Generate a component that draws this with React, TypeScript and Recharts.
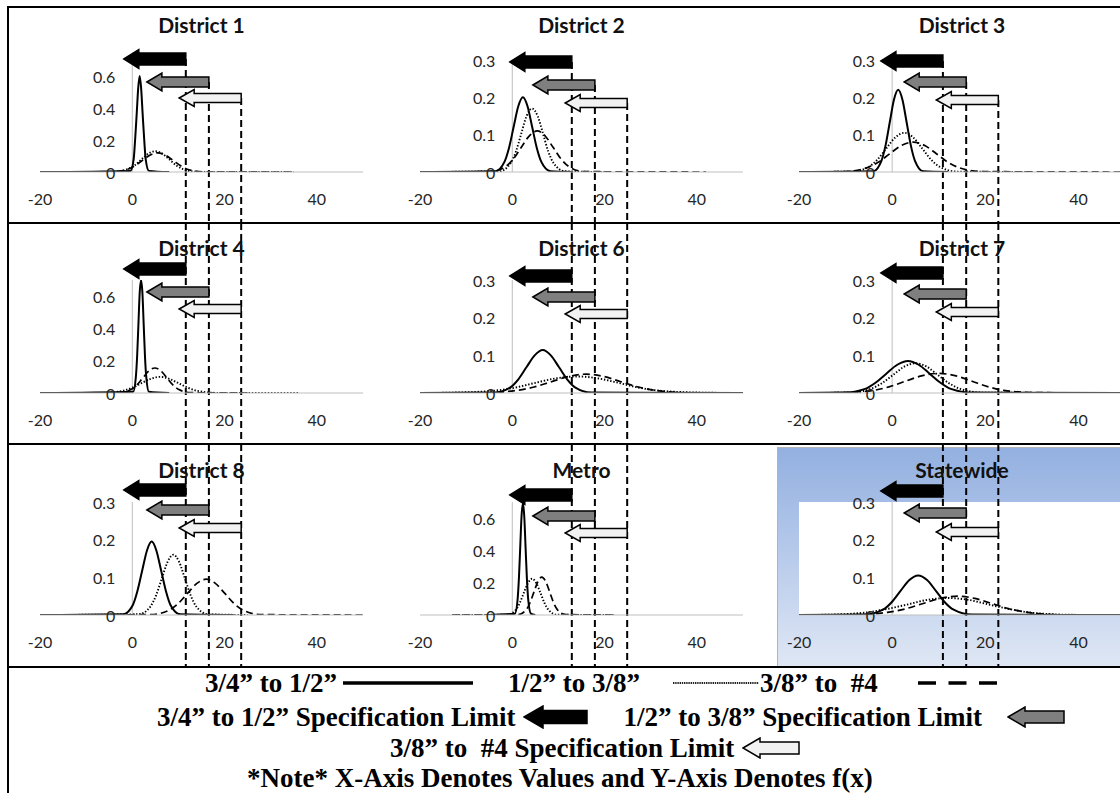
import React from "react";
import {
  LineChart,
  Line,
  XAxis,
  YAxis,
  ReferenceLine,
  ReferenceDot,
  CartesianGrid,
} from "recharts";

// [x, f(x)] points
const d1Solid = [[-20, 0], [-0.4, 0.007], [0.3, 0.08], [0.6, 0.195], [0.95, 0.36], [1.3, 0.53], [1.6, 0.6], [1.9, 0.53], [2.25, 0.36], [2.6, 0.195], [2.9, 0.08], [3.6, 0.007], [8, 0]];
const d1Dotted = [[-20, 0], [-4, 0.001], [-1, 0.018], [0.5, 0.042], [2, 0.079], [3.5, 0.115], [5, 0.13], [6.5, 0.115], [8, 0.079], [9.5, 0.042], [11, 0.018], [14, 0.001], [35, 0]];
const d1Dashed = [[-20, 0], [-4.4, 0.001], [-1.1, 0.016], [0.6, 0.039], [2.2, 0.073], [3.9, 0.106], [5.5, 0.12], [7.1, 0.106], [8.8, 0.073], [10.5, 0.039], [12.1, 0.016], [15.4, 0.001], [35, 0]];

const d2Solid = [[-20, 0], [-3.7, 0.002], [-1.7, 0.027], [-0.7, 0.065], [0.3, 0.121], [1.3, 0.176], [2.3, 0.2], [3.3, 0.176], [4.3, 0.121], [5.3, 0.065], [6.3, 0.027], [8.3, 0.002], [13, 0]];
const d2Dotted = [[-20, 0], [-2.8, 0.002], [-0.4, 0.023], [0.8, 0.055], [1.95, 0.103], [3.1, 0.15], [4.3, 0.17], [5.5, 0.15], [6.65, 0.103], [7.8, 0.055], [9, 0.023], [11.4, 0.002], [20, 0]];
const d2Dashed = [[-20, 0], [-4.8, 0.001], [-1.4, 0.015], [0.3, 0.036], [2, 0.067], [3.7, 0.097], [5.4, 0.11], [7.1, 0.097], [8.8, 0.067], [10.5, 0.036], [12.2, 0.015], [15.6, 0.001], [42, 0]];

const d3Solid = [[-20, 0], [-4.1, 0.002], [-2.3, 0.03], [-1.4, 0.072], [-0.5, 0.134], [0.4, 0.194], [1.3, 0.22], [2.2, 0.194], [3.1, 0.134], [4, 0.072], [4.9, 0.03], [6.7, 0.002], [12, 0]];
const d3Dotted = [[-20, 0], [-8.8, 0.001], [-5, 0.014], [-3.1, 0.034], [-1.2, 0.064], [0.7, 0.093], [2.6, 0.105], [4.5, 0.093], [6.4, 0.064], [8.3, 0.034], [10.2, 0.014], [14, 0.001], [30, 0]];
const d3Dashed = [[-20, 0], [-10.5, 0.001], [-5.5, 0.011], [-3, 0.026], [-0.5, 0.049], [2, 0.071], [4.5, 0.08], [7, 0.071], [9.5, 0.049], [12, 0.026], [14.5, 0.011], [19.5, 0.001], [50, 0]];

const d4Solid = [[-20, 0], [0.2, 0.008], [0.76, 0.095], [1.05, 0.228], [1.33, 0.425], [1.6, 0.617], [1.9, 0.7], [2.2, 0.617], [2.47, 0.425], [2.75, 0.228], [3.04, 0.095], [3.6, 0.008], [8, 0]];
const d4Dotted = [[-20, 0], [-6, 0.001], [-2, 0.014], [0, 0.033], [2, 0.061], [4, 0.088], [6, 0.1], [8, 0.088], [10, 0.061], [12, 0.033], [14, 0.014], [18, 0.001], [36, 0]];
const d4Dashed = [[-20, 0], [-2.9, 0.002], [-0.3, 0.021], [1, 0.05], [2.3, 0.094], [3.6, 0.137], [4.9, 0.155], [6.2, 0.137], [7.5, 0.094], [8.8, 0.05], [10.1, 0.021], [12.7, 0.002], [25, 0]];

const d6Solid = [[-20, 0], [-3.9, 0.001], [-0.4, 0.015], [1.35, 0.037], [3.1, 0.069], [4.85, 0.1], [6.6, 0.114], [8.35, 0.1], [10.1, 0.069], [11.85, 0.037], [13.6, 0.015], [17.1, 0.001], [50, 0]];
const d6Dotted = [[-20, 0], [-13, 0.001], [-4, 0.006], [0.5, 0.014], [5, 0.027], [9.5, 0.039], [14, 0.044], [18.5, 0.039], [23, 0.027], [27.5, 0.014], [32, 0.006], [41, 0.001], [50, 0]];
const d6Dashed = [[-20, 0], [-6.5, 0.0005], [1, 0.007], [4.75, 0.016], [8.5, 0.03], [12.25, 0.044], [16, 0.05], [19.75, 0.044], [23.5, 0.03], [27.25, 0.016], [31, 0.007], [38.5, 0.0005], [50, 0]];

const d7Solid = [[-20, 0], [-10.4, 0.001], [-5.8, 0.011], [-3.5, 0.028], [-1.2, 0.052], [1.1, 0.075], [3.4, 0.085], [5.7, 0.075], [8, 0.052], [10.3, 0.028], [12.6, 0.011], [17.2, 0.001], [50, 0]];
const d7Dotted = [[-20, 0], [-9.4, 0.001], [-4.6, 0.011], [-2.2, 0.026], [0.2, 0.048], [2.6, 0.07], [5, 0.079], [7.4, 0.07], [9.8, 0.048], [12.2, 0.026], [14.6, 0.011], [19.4, 0.001], [50, 0]];
const d7Dashed = [[-20, 0], [-11, 0.001], [-4, 0.007], [-0.5, 0.017], [3, 0.032], [6.5, 0.046], [10, 0.052], [13.5, 0.046], [17, 0.032], [20.5, 0.017], [24, 0.007], [31, 0.001], [50, 0]];

const d8Solid = [[-20, 0], [-2, 0.002], [0.1, 0.026], [1.1, 0.063], [2.15, 0.118], [3.2, 0.172], [4.2, 0.195], [5.2, 0.172], [6.25, 0.118], [7.3, 0.063], [8.3, 0.026], [10.4, 0.002], [22, 0]];
const d8Dotted = [[-20, 0], [1.4, 0.002], [3.9, 0.022], [5.15, 0.052], [6.4, 0.097], [7.65, 0.141], [8.9, 0.16], [10.15, 0.141], [11.4, 0.097], [12.65, 0.052], [13.9, 0.022], [16.4, 0.002], [25, 0]];
const d8Dashed = [[-20, 0], [4, 0.001], [8, 0.013], [10, 0.031], [12, 0.058], [14, 0.084], [16, 0.095], [18, 0.084], [20, 0.058], [22, 0.031], [24, 0.013], [28, 0.001], [50, 0]];

const metroSolid = [[-5, 0], [0.56, 0.008], [1.14, 0.093], [1.43, 0.224], [1.72, 0.419], [2, 0.609], [2.3, 0.69], [2.6, 0.609], [2.88, 0.419], [3.17, 0.224], [3.46, 0.093], [4.04, 0.008], [5, 0]];
const metroDotted = [[-13, 0], [-1.1, 0.002], [0.7, 0.03], [1.6, 0.073], [2.5, 0.137], [3.4, 0.198], [4.3, 0.225], [5.2, 0.198], [6.1, 0.137], [7, 0.073], [7.9, 0.03], [9.7, 0.002], [22, 0]];
const metroDashed = [[-13, 0], [1.3, 0.003], [3, 0.032], [3.85, 0.076], [4.7, 0.143], [5.55, 0.207], [6.4, 0.235], [7.25, 0.207], [8.1, 0.143], [8.95, 0.076], [9.8, 0.032], [11.5, 0.003], [22, 0]];

const stateSolid = [[-20, 0], [-5.8, 0.001], [-2, 0.014], [-0.1, 0.034], [1.8, 0.064], [3.7, 0.093], [5.6, 0.105], [7.5, 0.093], [9.4, 0.064], [11.3, 0.034], [13.2, 0.014], [17, 0.001], [50, 0]];
const stateDotted = [[-20, 0], [-15, 0.0005], [-6, 0.006], [-1.5, 0.015], [3, 0.027], [7.5, 0.04], [12, 0.045], [16.5, 0.04], [21, 0.027], [25.5, 0.015], [30, 0.006], [39, 0.0005], [50, 0]];
const stateDashed = [[-20, 0], [-8.5, 0.0005], [-1, 0.007], [2.75, 0.016], [6.5, 0.03], [10.25, 0.044], [14, 0.05], [17.75, 0.044], [21.5, 0.03], [25.25, 0.016], [29, 0.007], [36.5, 0.0005], [50, 0]];

const titles = ["District 1", "District 2", "District 3", "District 4", "District 6", "District 7", "District 8", "Metro", "Statewide"];
const yMaxes = [0.7, 0.3, 0.3, 0.7, 0.3, 0.3, 0.3, 0.7, 0.3];
const xTicks = [-20, 0, 20, 40];
const yTicksWide = [0, 0.2, 0.4, 0.6];
const yTicksNarrow = [0, 0.1, 0.2, 0.3];
// spec limits (3/4-1/2, 1/2-3/8, 3/8-#4) as drawn over each column
const specLimits = [
  [11.6, 16.6, 23.6],
  [12.9, 17.9, 24.9],
  [10.9, 15.9, 22.8],
];

const toPts = (a: number[][]) => a.map(([x, y]) => ({ x, y }));

const series = [
  [d1Solid, d1Dotted, d1Dashed],
  [d2Solid, d2Dotted, d2Dashed],
  [d3Solid, d3Dotted, d3Dashed],
  [d4Solid, d4Dotted, d4Dashed],
  [d6Solid, d6Dotted, d6Dashed],
  [d7Solid, d7Dotted, d7Dashed],
  [d8Solid, d8Dotted, d8Dashed],
  [metroSolid, metroDotted, metroDashed],
  [stateSolid, stateDotted, stateDashed],
].map((s) => s.map(toPts));

// layout
const COLS = [
  { left: 8, width: 372, ml: 32, mr: 17 },
  { left: 380, width: 380, ml: 40, mr: 17 },
  { left: 760, width: 380, ml: 39, mr: 15 },
];
const ROWS = [
  { top: 7, height: 216, mt: 53, mb: 51, titleY: 18 },
  { top: 223, height: 221, mt: 57, mb: 51, titleY: 25 },
  { top: 444, height: 223, mt: 58, mb: 52, titleY: 26 },
];
// arrow centre y (relative to panel top) per panel: black, gray, white
const arrowYs = [
  [52, 75, 91], [55, 78, 96], [54, 75, 93],
  [46, 69, 86], [53, 74, 91], [50, 71, 89],
  [46, 66, 84], [51, 72, 89], [47, 69, 88],
];
const arrowStyles = [
  { fill: "#000", body: 12, head: 19 },
  { fill: "#7f7f7f", body: 10, head: 18 },
  { fill: "#f2f2f2", body: 9, head: 17 },
];

const tickFont = { fontSize: 16, fill: "#262626", fontFamily: "Lato, sans-serif" };

function specShape(kind: number, ay: number, yStart: number, yEnd: number) {
  return (p: any) => {
    const x = p.x1;
    const st = arrowStyles[kind];
    const L = 62;
    const hl = 15;
    const bh = st.body / 2;
    const hh = st.head / 2;
    const pts = [
      [x - L, ay],
      [x - L + hl, ay - hh],
      [x - L + hl, ay - bh],
      [x, ay - bh],
      [x, ay + bh],
      [x - L + hl, ay + bh],
      [x - L + hl, ay + hh],
    ]
      .map((q) => q.join(","))
      .join(" ");
    return (
      <g>
        <line x1={x} x2={x} y1={yStart} y2={yEnd} stroke="#000" strokeWidth={2} strokeDasharray="7 4" />
        <polygon points={pts} fill={st.fill} stroke="#000" strokeWidth={1.5} />
      </g>
    );
  };
}

function Panel({ idx }: { idx: number }) {
  const col = COLS[idx % 3];
  const row = ROWS[Math.floor(idx / 3)];
  const rowIdx = Math.floor(idx / 3);
  const yMax = yMaxes[idx];
  const yTicks = yMax > 0.5 ? yTicksWide : yTicksNarrow;
  const [solid, dotted, dashed] = series[idx];
  const plotW = col.width - col.ml - col.mr;
  const highlight = idx === 8;
  return (
    <div style={{ position: "absolute", left: col.left, top: row.top, width: col.width, height: row.height }}>
      <LineChart
        width={col.width}
        height={row.height}
        margin={{ top: row.mt, right: col.mr, bottom: row.mb - 30, left: col.ml }}
      >
        {highlight && <CartesianGrid horizontal={false} vertical={false} fill="#ffffff" stroke="none" />}
        <XAxis
          type="number"
          dataKey="x"
          domain={[-20, 50]}
          ticks={xTicks}
          allowDataOverflow
          height={30}
          tickLine={false}
          tickSize={6}
          tickMargin={16}
          axisLine={{ stroke: "#bfbfbf" }}
          tick={tickFont}
        />
        <YAxis type="number" dataKey="y" domain={[0, yMax]} hide allowDataOverflow />
        <ReferenceLine x={0} stroke="#bfbfbf" strokeWidth={1} />
        {yTicks.map((t) => (
          <ReferenceDot
            key={t}
            x={0}
            y={t}
            r={0}
            shape={(p: any) => (
              <text
                x={p.cx - 17}
                y={p.cy}
                textAnchor="end"
                dominantBaseline="central"
                fontSize={16}
                fill="#262626"
                fontFamily="Lato, sans-serif"
              >
                {String(t)}
              </text>
            )}
          />
        ))}
        <Line data={dashed} dataKey="y" type="monotone" stroke="#000" strokeWidth={1.7} strokeDasharray="7 4" dot={false} isAnimationActive={false} />
        <Line data={dotted} dataKey="y" type="monotone" stroke="#000" strokeWidth={1.9} strokeDasharray="1.4 1.8" dot={false} isAnimationActive={false} />
        <Line data={solid} dataKey="y" type="monotone" stroke="#000" strokeWidth={2} dot={false} isAnimationActive={false} />
        {specLimits[idx % 3].map((v, k) => (
          <ReferenceLine
            key={k}
            x={v}
            shape={specShape(k, arrowYs[idx][k], rowIdx === 0 ? arrowYs[idx][k] : 0, row.height)}
          />
        ))}
      </LineChart>
      <div
        style={{
          position: "absolute",
          left: col.ml,
          width: plotW,
          top: row.titleY - 12,
          height: 24,
          lineHeight: "24px",
          textAlign: "center",
          fontFamily: "Lato, sans-serif",
          fontWeight: 700,
          fontSize: 21,
          color: "#111",
          pointerEvents: "none",
        }}
      >
        {titles[idx]}
      </div>
    </div>
  );
}

function Arrow({ w, h, body, headLen, fill }: { w: number; h: number; body: number; headLen: number; fill: string }) {
  const c = h / 2;
  const pts = [
    [1, c],
    [headLen, 1],
    [headLen, c - body / 2],
    [w - 1, c - body / 2],
    [w - 1, c + body / 2],
    [headLen, c + body / 2],
    [headLen, h - 1],
  ]
    .map((q) => q.join(","))
    .join(" ");
  return (
    <svg width={w} height={h} style={{ display: "block" }}>
      <polygon points={pts} fill={fill} stroke="#000" strokeWidth={1.5} />
    </svg>
  );
}

const legendFont: React.CSSProperties = {
  fontFamily: "'Liberation Serif', 'Times New Roman', serif",
  fontWeight: 700,
  fontSize: 27,
  lineHeight: "32px",
  whiteSpace: "pre",
  color: "#000",
};

function Legend() {
  const rowStyle = (left: number, cy: number): React.CSSProperties => ({
    position: "absolute",
    left,
    top: cy - 16,
    height: 32,
    display: "flex",
    alignItems: "center",
    ...legendFont,
  });
  return (
    <>
      <div style={rowStyle(205, 683)}>
        <span>3/4” to 1/2”</span>
        <svg width={136} height={8} style={{ display: "block" }}>
          <line x1={6} x2={136} y1={4} y2={4} stroke="#000" strokeWidth={3.5} />
        </svg>
        <span style={{ marginLeft: 35 }}>1/2” to 3/8”</span>
        <svg width={120} height={8} style={{ display: "block" }}>
          <line x1={33} x2={119} y1={4} y2={4} stroke="#222" strokeWidth={2.2} strokeDasharray="1.4 0.8" />
        </svg>
        <span>3/8” to  #4</span>
        <svg width={120} height={8} style={{ display: "block" }}>
          <line x1={40} x2={119} y1={4} y2={4} stroke="#000" strokeWidth={3.5} strokeDasharray="18 12.5" />
        </svg>
      </div>
      <div style={rowStyle(157, 717)}>
        <span>3/4” to 1/2” Specification Limit</span>
        <div style={{ marginLeft: 8 }}>
          <Arrow w={65} h={24} body={13} headLen={20} fill="#000" />
        </div>
        <span style={{ marginLeft: 35 }}>1/2” to 3/8” Specification Limit</span>
        <div style={{ marginLeft: 25 }}>
          <Arrow w={58} h={22} body={12} headLen={18} fill="#7f7f7f" />
        </div>
      </div>
      <div style={rowStyle(390, 748)}>
        <span>3/8” to  #4 Specification Limit</span>
        <div style={{ marginLeft: 8 }}>
          <Arrow w={58} h={22} body={12} headLen={18} fill="#f2f2f2" />
        </div>
      </div>
      <div style={rowStyle(247, 778)}>
        <span>*Note* X-Axis Denotes Values and Y-Axis Denotes f(x)</span>
      </div>
    </>
  );
}

export default function App() {
  const hLine = (top: number): React.CSSProperties => ({
    position: "absolute",
    left: 8,
    top,
    width: 1112,
    height: 2,
    background: "#000",
  });
  return (
    <div
      style={{
        position: "absolute",
        left: 0,
        top: 0,
        width: 1120,
        height: 793,
        overflow: "hidden",
        background: "#fff",
      }}
    >
      <div
        style={{
          position: "absolute",
          left: 777,
          top: 447,
          width: 360,
          height: 218,
          border: "1px solid #b4b4b4",
          background: "linear-gradient(to bottom, #93b0e0 0%, #b4c8ea 45%, #dfe7f4 100%)",
        }}
      />
      {titles.map((_, i) => (
        <Panel key={i} idx={i} />
      ))}
      <div style={hLine(6)} />
      <div style={hLine(222)} />
      <div style={hLine(443)} />
      <div style={hLine(666)} />
      <div style={{ position: "absolute", left: 7, top: 6, width: 2, height: 800, background: "#000" }} />
      <Legend />
    </div>
  );
}
